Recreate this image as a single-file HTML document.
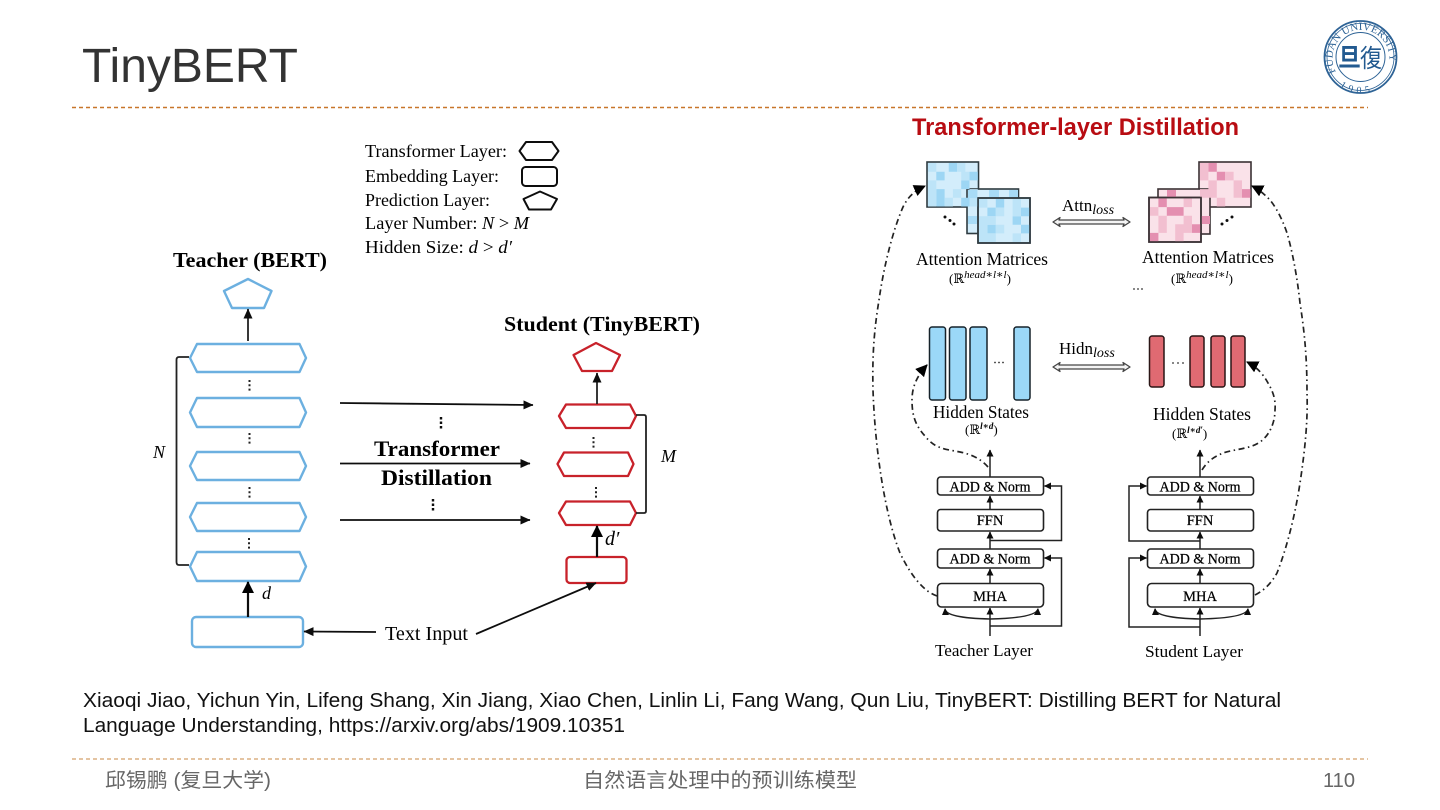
<!DOCTYPE html>
<html lang="en">
<head>
<meta charset="utf-8">
<title>TinyBERT</title>
<style>
html,body{margin:0;padding:0;background:#fff;width:1440px;height:810px;overflow:hidden}
svg{display:block}
.sans{font-family:"Liberation Sans","Noto Sans CJK SC",sans-serif}
.serif{font-family:"Liberation Serif","DejaVu Serif",serif;fill:#000}
.b{font-weight:bold}
.i{font-style:italic}
</style>
</head>
<body>
<svg width="1440" height="810" viewBox="0 0 1440 810" xmlns="http://www.w3.org/2000/svg">
<defs>
<filter id="soft" filterUnits="userSpaceOnUse" x="0" y="112" width="1440" height="560"><feGaussianBlur stdDeviation="0.25"/></filter>
<filter id="soft2" filterUnits="userSpaceOnUse" x="1310" y="10" width="100" height="95"><feGaussianBlur stdDeviation="0.3"/></filter>
<marker id="big" markerUnits="userSpaceOnUse" markerWidth="12" markerHeight="12" refX="11" refY="6" orient="auto"><path d="M0 0L12 6L0 12z" fill="#000"/></marker>
<marker id="mid" markerUnits="userSpaceOnUse" markerWidth="10" markerHeight="10" refX="9.5" refY="5" orient="auto"><path d="M0 0.5L10 5L0 9.500z" fill="#111"/></marker>
<marker id="sm" markerUnits="userSpaceOnUse" markerWidth="7" markerHeight="7" refX="6.500" refY="3.500" orient="auto"><path d="M0 0L7 3.500L0 7z" fill="#111"/></marker>
<path id="ring" d="M1336 72A28.500 28.500 0 1 1 1386 72" fill="none"/>
<path id="ringb" d="M1338 76A29.500 29.500 0 0 0 1384 76" fill="none"/>
</defs>

<!-- slide chrome -->
<text class="sans" x="82" y="82" font-size="48" fill="#333" textLength="216" lengthAdjust="spacingAndGlyphs">TinyBERT</text>
<line x1="72" y1="107.500" x2="1368" y2="107.500" stroke="#c8762a" stroke-width="1.500" stroke-dasharray="4 3"/>
<line x1="72" y1="759" x2="1368" y2="759" stroke="#c98a45" stroke-width="1" stroke-dasharray="4 3"/>

<!-- logo -->
<g filter="url(#soft2)">
<g fill="none" stroke="#2f6496">
<circle cx="1360.500" cy="57" r="36" stroke-width="1.800"/>
<circle cx="1360.500" cy="57" r="33.500" stroke-width=".8"/>
<circle cx="1360.500" cy="57" r="24.500" stroke-width="1"/>
</g>
<text class="serif" font-size="11" style="fill:#2f6496"><textPath href="#ring" startOffset="0">FUDAN UNIVERSITY</textPath></text>
<text class="serif" font-size="10" style="fill:#2f6496"><textPath href="#ringb" startOffset="7" dominant-baseline="hanging">1 9 0 5</textPath></text>
<text font-family="'Noto Sans CJK SC',sans-serif" x="1338" y="66" font-size="25" fill="#245a90" font-weight="bold" textLength="23" lengthAdjust="spacingAndGlyphs">旦</text>
<text font-family="'Noto Sans CJK SC',sans-serif" x="1360" y="67" font-size="25" fill="#245a90" textLength="22" lengthAdjust="spacingAndGlyphs">復</text>
</g>

<g filter="url(#soft)">
<!-- legend -->
<g class="serif" font-size="17.500">
<text x="365" y="157" textLength="142" lengthAdjust="spacingAndGlyphs">Transformer Layer:</text>
<text x="365" y="182" textLength="134" lengthAdjust="spacingAndGlyphs">Embedding Layer:</text>
<text x="365" y="206" textLength="125" lengthAdjust="spacingAndGlyphs">Prediction Layer:</text>
<text x="365" y="229" textLength="164" lengthAdjust="spacingAndGlyphs">Layer Number: <tspan class="i">N</tspan> &gt; <tspan class="i">M</tspan></text>
<text x="365" y="253" textLength="147" lengthAdjust="spacingAndGlyphs">Hidden Size: <tspan class="i">d</tspan> &gt; <tspan class="i">d′</tspan></text>
</g>
<g fill="#fff" stroke="#111" stroke-width="2" stroke-linejoin="round">
<polygon points="519.500,151 526,142 552,142 558.500,151 552,160 526,160"/>
<rect x="522" y="167" width="35" height="19" rx="3.500"/>
<polygon points="540,191.500 557,199 551,209.500 529,209.500 523.500,199"/>
</g>

<!-- teacher -->
<text class="serif b" x="173" y="267" font-size="21" textLength="154" lengthAdjust="spacingAndGlyphs">Teacher (BERT)</text>
<g fill="#fff" stroke="#6cb0e0" stroke-width="2.400" stroke-linejoin="round">
<polygon points="248,279 271.500,291 264,308 232,308 224,291"/>
<polygon points="190,358 197,344 299.500,344 306,358 299.500,372 197,372"/>
<polygon points="190,412.500 197,398 299.500,398 306,412.500 299.500,427 197,427"/>
<polygon points="190,466 197,452 299.500,452 306,466 299.500,480 197,480"/>
<polygon points="190,517 197,503 299.500,503 306,517 299.500,531 197,531"/>
<polygon points="190,566.500 197,552 299.500,552 306,566.500 299.500,581 197,581"/>
<rect x="192" y="617" width="111" height="30" rx="4"/>
</g>
<path d="M189 357H179Q176.500 357 176.500 360V562Q176.500 565 179 565H189" fill="none" stroke="#222" stroke-width="1.800"/>
<g stroke="#222" stroke-width="2" stroke-dasharray="2 2.300" fill="none">
<line x1="249.500" y1="380" x2="249.500" y2="391"/>
<line x1="249.500" y1="433" x2="249.500" y2="444"/>
<line x1="249.500" y1="487" x2="249.500" y2="498"/>
<line x1="249" y1="538" x2="249" y2="549"/>
<line x1="593.500" y1="437" x2="593.500" y2="448"/>
<line x1="596" y1="487" x2="596" y2="498"/>
</g>
<g stroke="#111" stroke-width="2.400" stroke-dasharray="2.500 2" fill="none">
<line x1="441" y1="417" x2="441" y2="429"/>
<line x1="433" y1="499" x2="433" y2="511"/>
</g>
<line x1="248" y1="341" x2="248" y2="309" stroke="#222" stroke-width="1.800" marker-end="url(#mid)"/>
<line x1="248" y1="617" x2="248" y2="582" stroke="#111" stroke-width="2.200" marker-end="url(#big)"/>
<line x1="376" y1="632" x2="304" y2="631.500" stroke="#111" stroke-width="1.800" marker-end="url(#mid)"/>
<text class="serif i" x="153" y="458" font-size="18">N</text>
<text class="serif i" x="262" y="599" font-size="18">d</text>

<!-- distillation arrows -->
<line x1="340" y1="403" x2="533" y2="405" stroke="#111" stroke-width="1.800" marker-end="url(#mid)"/>
<line x1="340" y1="463.500" x2="530" y2="463.500" stroke="#111" stroke-width="1.800" marker-end="url(#mid)"/>
<line x1="340" y1="520" x2="530" y2="520" stroke="#111" stroke-width="1.800" marker-end="url(#mid)"/>
<text class="serif b" x="374" y="456" font-size="22.500" textLength="126" lengthAdjust="spacingAndGlyphs">Transformer</text>
<text class="serif b" x="381" y="485" font-size="22.500" textLength="111" lengthAdjust="spacingAndGlyphs">Distillation</text>
<text class="serif" x="385" y="640" font-size="19.500" textLength="83" lengthAdjust="spacingAndGlyphs">Text Input</text>

<!-- student -->
<text class="serif b" x="504" y="331" font-size="21" textLength="196" lengthAdjust="spacingAndGlyphs">Student (TinyBERT)</text>
<g fill="#fff" stroke="#c8202c" stroke-width="2.300" stroke-linejoin="round">
<polygon points="596,343 620,355 612,371 582,371 573.500,355"/>
<polygon points="559,416 566,404.500 630,404.500 636,416 630,428 566,428"/>
<polygon points="557.500,464 564,452.500 628,452.500 633.500,464 628,476 564,476"/>
<polygon points="559,513 566,501.500 630,501.500 636,513 630,525 566,525"/>
<rect x="566.500" y="557" width="60" height="26" rx="3.500"/>
</g>
<path d="M636 415H644Q646 415 646 417V511Q646 513 644 513H636" fill="none" stroke="#222" stroke-width="1.800"/>
<line x1="597" y1="404" x2="597" y2="373" stroke="#222" stroke-width="1.800" marker-end="url(#mid)"/>
<line x1="597" y1="557" x2="597" y2="526" stroke="#111" stroke-width="2.200" marker-end="url(#big)"/>
<line x1="476" y1="634" x2="596" y2="583" stroke="#111" stroke-width="1.800" marker-end="url(#mid)"/>
<text class="serif i" x="661" y="462" font-size="18">M</text>
<text class="serif i" x="605" y="545" font-size="20">d′</text>
</g>

<!-- right panel -->
<text class="sans b" x="912" y="135" font-size="24" fill="#b80c12" textLength="327" lengthAdjust="spacingAndGlyphs">Transformer-layer Distillation</text>

<g filter="url(#soft)">
<!-- blue matrices -->
<g stroke="#2f3a40" stroke-width="1.600">
<rect x="927" y="162" width="51.500" height="45" fill="#d3edfb"/>
<rect x="967" y="189" width="51.500" height="44.500" fill="#d3edfb"/>
<rect x="978" y="198" width="52" height="45" fill="#d3edfb"/>
</g>
<g transform="translate(928,163) scale(8.300,8.700)">
<path fill="#9dd6f4" d="M2.500 0h1v1h-1zM1 1h1v1h-1zM4 2h1v1h-1zM4 4h1v1h-1zM1 3h1v2h-1zM5 1h1v1h-1z"/>
<path fill="#bde4f8" d="M0 0h1v1h-1zM3.500 0h1v1h-1zM4 1h1v1h-1zM0 2h1v1h-1zM0 3h1v1h-1zM3 3h1v1h-1zM5 3h1v1h-1zM0 4h1v1h-1zM2 4h1v1h-1zM5 4h1v1h-1z"/>
</g>
<path fill="#a8dbf6" d="M968 190h9v8h-9zM968 216h9v8h-9zM989 190h10v7h-10zM1009 190h9v7h-9z"/>
<g transform="translate(979,199) scale(8.400,8.600)">
<path fill="#9dd6f4" d="M2 0h1v1h-1zM1 1h1v1h-1zM4 2h1v1h-1zM5 1h1v1h-1zM5 3h1v1h-1zM1 3h1v1h-1z"/>
<path fill="#bde4f8" d="M0 0h1v1h-1zM4 0h1v1h-1zM4 1h1v1h-1zM0 2h1v1h-1zM2 1h1v1h-1zM2 3h1v1h-1zM0 3h1v1h-1zM0 4h2v1h-2zM4 4h1v1h-1zM1 2h1v1h-1z"/>
</g>
<rect x="978" y="198" width="52" height="45" fill="none" stroke="#2f3a40" stroke-width="1.600"/>
<circle cx="945" cy="217" r="1.500" fill="#111"/><circle cx="950" cy="220.500" r="1.500" fill="#111"/><circle cx="954" cy="224" r="1.500" fill="#111"/>

<!-- pink matrices -->
<g stroke="#3a3034" stroke-width="1.600">
<rect x="1199" y="162" width="52" height="45" fill="#fae2e9"/>
<rect x="1158" y="189" width="52" height="45" fill="#fae2e9"/>
<rect x="1149" y="197.500" width="52" height="44.500" fill="#fae2e9"/>
</g>
<g transform="translate(1200,163) scale(8.400,8.700)">
<path fill="#e48fb0" d="M1 0h1v1h-1zM2 1h1v1h-1zM5 3h1v1h-1z"/>
<path fill="#f2bfd0" d="M0 0h1v1h-1zM0 1h1v1h-1zM4 2h1v1h-1zM1 2h1v1h-1zM1 3h1v1h-1zM4 3h1v1h-1zM2 4h1v1h-1zM0 3h1v1h-1zM3 1h1v1h-1z"/>
</g>
<path fill="#e48fb0" d="M1167 190h9v7h-9zM1201 216h9v8h-9z"/>
<g transform="translate(1150,198.500) scale(8.400,8.600)">
<path fill="#e48fb0" d="M1 0h1v1h-1zM2 1h2v1h-2zM5 3h1v1h-1zM0 4h1v1h-1z"/>
<path fill="#f2bfd0" d="M0 1h1v1h-1zM1 2h1v2h-1zM4 2h1v1h-1zM3 3h2v1h-2zM3 4h1v1h-1zM4 0h1v1h-1z"/>
</g>
<rect x="1149" y="197.500" width="52" height="44.500" fill="none" stroke="#3a3034" stroke-width="1.600"/>
<circle cx="1222" cy="224" r="1.500" fill="#111"/><circle cx="1227" cy="220.500" r="1.500" fill="#111"/><circle cx="1232" cy="217" r="1.500" fill="#111"/>
<g fill="#333"><circle cx="1134" cy="289" r=".9"/><circle cx="1138" cy="289" r=".9"/><circle cx="1142" cy="289" r=".9"/>
<circle cx="995" cy="362.500" r=".9"/><circle cx="999" cy="362.500" r=".9"/><circle cx="1003" cy="362.500" r=".9"/>
<circle cx="1173" cy="363" r=".9"/><circle cx="1178" cy="363" r=".9"/><circle cx="1183" cy="363" r=".9"/></g>

<g class="serif" font-size="17.500">
<text x="916" y="265" textLength="132" lengthAdjust="spacingAndGlyphs">Attention Matrices</text>
<text x="1142" y="263" textLength="132" lengthAdjust="spacingAndGlyphs">Attention Matrices</text>
<text x="933" y="418" textLength="96" lengthAdjust="spacingAndGlyphs">Hidden States</text>
<text x="1153" y="420" textLength="98" lengthAdjust="spacingAndGlyphs">Hidden States</text>
</g>
<g class="serif" font-size="13">
<text x="949" y="283">(ℝ<tspan class="i" font-size="11" dy="-5">head∗l∗l</tspan><tspan dy="5">)</tspan></text>
<text x="1171" y="283">(ℝ<tspan class="i" font-size="11" dy="-5">head∗l∗l</tspan><tspan dy="5">)</tspan></text>
<text x="965" y="434">(ℝ<tspan class="i b" font-size="9" dy="-5">l∗d</tspan><tspan dy="5">)</tspan></text>
<text x="1172" y="438">(ℝ<tspan class="i b" font-size="9" dy="-5">l∗d′</tspan><tspan dy="5">)</tspan></text>
</g>
<g class="serif">
<text x="1062" y="211" font-size="17">Attn<tspan class="i" font-size="14" dy="3">loss</tspan></text>
<text x="1059" y="354" font-size="17">Hidn<tspan class="i" font-size="14" dy="3">loss</tspan></text>
</g>
<g fill="#f4f4f4" stroke="#444" stroke-width="1.300" stroke-linejoin="round">
<polygon points="1053,222 1060,217.500 1059,220 1124,220 1123,217.500 1130,222 1123,226.500 1124,224 1059,224 1060,226.500"/>
<polygon points="1053,367 1060,362.500 1059,365 1124,365 1123,362.500 1130,367 1123,371.500 1124,369 1059,369 1060,371.500"/>
</g>

<!-- hidden states bars -->
<g fill="#9bd8f8" stroke="#16242c" stroke-width="1.500">
<rect x="929.500" y="327" width="16" height="73" rx="2.500"/>
<rect x="949.500" y="327" width="16.500" height="73" rx="2.500"/>
<rect x="970" y="327" width="17" height="73" rx="2.500"/>
<rect x="1014" y="327" width="16" height="73" rx="2.500"/>
</g>
<g fill="#e06a72" stroke="#2a1214" stroke-width="1.500">
<rect x="1149.500" y="336" width="14.500" height="51" rx="2.500"/>
<rect x="1190" y="336" width="14" height="51" rx="2.500"/>
<rect x="1211" y="336" width="14" height="51" rx="2.500"/>
<rect x="1231" y="336" width="14" height="51" rx="2.500"/>
</g>

<!-- encoder blocks -->
<g fill="#fff" stroke="#222" stroke-width="1.600">
<rect x="937.500" y="477" width="106" height="18" rx="3"/>
<rect x="937.500" y="509.500" width="106" height="21.500" rx="3"/>
<rect x="937.500" y="549" width="106" height="19" rx="3"/>
<rect x="937.500" y="583.500" width="106" height="23.500" rx="4"/>
<rect x="1147.500" y="477" width="106" height="18" rx="3"/>
<rect x="1147.500" y="509.500" width="106" height="21.500" rx="3"/>
<rect x="1147.500" y="549" width="106" height="19" rx="3"/>
<rect x="1147.500" y="583.500" width="106" height="23.500" rx="4"/>
</g>
<g class="serif" font-size="14.500" text-anchor="middle" stroke="#000" stroke-width=".25">
<text x="990" y="491.500" textLength="81" lengthAdjust="spacingAndGlyphs">ADD &amp; Norm</text>
<text x="990" y="525">FFN</text>
<text x="990" y="563.500" textLength="81" lengthAdjust="spacingAndGlyphs">ADD &amp; Norm</text>
<text x="990" y="601">MHA</text>
<text x="1200" y="491.500" textLength="81" lengthAdjust="spacingAndGlyphs">ADD &amp; Norm</text>
<text x="1200" y="525">FFN</text>
<text x="1200" y="563.500" textLength="81" lengthAdjust="spacingAndGlyphs">ADD &amp; Norm</text>
<text x="1200" y="601">MHA</text>
</g>
<g class="serif" font-size="16.500">
<text x="935" y="656" textLength="98" lengthAdjust="spacingAndGlyphs">Teacher Layer</text>
<text x="1145" y="657" textLength="98" lengthAdjust="spacingAndGlyphs">Student Layer</text>
</g>
<g fill="none" stroke="#222" stroke-width="1.500">
<line x1="990" y1="477" x2="990" y2="450" marker-end="url(#sm)"/>
<line x1="990" y1="509" x2="990" y2="496" marker-end="url(#sm)"/>
<line x1="990" y1="549" x2="990" y2="532" marker-end="url(#sm)"/>
<line x1="990" y1="583" x2="990" y2="569" marker-end="url(#sm)"/>
<line x1="990" y1="636" x2="990" y2="608" marker-end="url(#sm)"/>
<path d="M990 540.500H1061.500V486H1044.500" marker-end="url(#sm)"/>
<path d="M990 626H1061.500V558H1044.500" marker-end="url(#sm)"/>
<path d="M1038 609Q1036 618 990 619Q946 618 945 609"/>
<line x1="1200" y1="477" x2="1200" y2="450" marker-end="url(#sm)"/>
<line x1="1200" y1="509" x2="1200" y2="496" marker-end="url(#sm)"/>
<line x1="1200" y1="549" x2="1200" y2="532" marker-end="url(#sm)"/>
<line x1="1200" y1="583" x2="1200" y2="569" marker-end="url(#sm)"/>
<line x1="1200" y1="636" x2="1200" y2="608" marker-end="url(#sm)"/>
<path d="M1200 541H1129V486H1146.500" marker-end="url(#sm)"/>
<path d="M1200 627H1129V558H1146.500" marker-end="url(#sm)"/>
<path d="M1248 609Q1246 618 1200 619Q1156 618 1155 609"/>
</g>
<g fill="#111">
<polygon points="945,608 949,615 942,615"/>
<polygon points="1038,608 1041,615 1034,615"/>
<polygon points="1155,608 1159,615 1152,615"/>
<polygon points="1248,608 1251,615 1244,615"/>
</g>

<!-- dash-dot curves -->
<g fill="none" stroke="#222" stroke-width="1.700" stroke-dasharray="6 3.500 1.500 3.500">
<path d="M937 596C925 592 912 578 900 553C885 515 875 450 873 390C872 350 875 325 879 300C884 265 893 230 903 207C908 197 914 191 925 186" marker-end="url(#big)"/>
<path d="M1255 595C1265 590 1272 582 1277 573C1288 545 1296 510 1300 483C1305 450 1308 420 1307 393C1307 360 1305 335 1300 303C1297 275 1292 250 1287 233C1282 218 1275 206 1270 200C1265 195 1260 190 1252 186" marker-end="url(#big)"/>
<path d="M988 467C980 458 970 454 960 452C945 449 935 449 925 436C915 425 912 415 912 400C912 388 916 377 927 365" marker-end="url(#big)"/>
<path d="M1202 470C1208 460 1216 456 1223 453C1235 449 1250 449 1260 442C1270 435 1275 422 1275 410C1276 398 1272 390 1268 383C1262 372 1255 366 1247 362" marker-end="url(#big)"/>
</g>
</g>

<!-- citation and footer -->
<g class="sans" font-size="20" fill="#111">
<text x="83" y="707" textLength="1198" lengthAdjust="spacingAndGlyphs">Xiaoqi Jiao, Yichun Yin, Lifeng Shang, Xin Jiang, Xiao Chen, Linlin Li, Fang Wang, Qun Liu, TinyBERT: Distilling BERT for Natural</text>
<text x="83" y="732" textLength="542" lengthAdjust="spacingAndGlyphs">Language Understanding, https://arxiv.org/abs/1909.10351</text>
</g>
<g class="sans" font-size="20" fill="#666">
<text x="105" y="787" textLength="166" lengthAdjust="spacingAndGlyphs">邱锡鹏 (复旦大学)</text>
<text x="583" y="787" textLength="274" lengthAdjust="spacingAndGlyphs">自然语言处理中的预训练模型</text>
<text x="1323" y="787" textLength="32" lengthAdjust="spacingAndGlyphs">110</text>
</g>
</svg>
</body>
</html>
